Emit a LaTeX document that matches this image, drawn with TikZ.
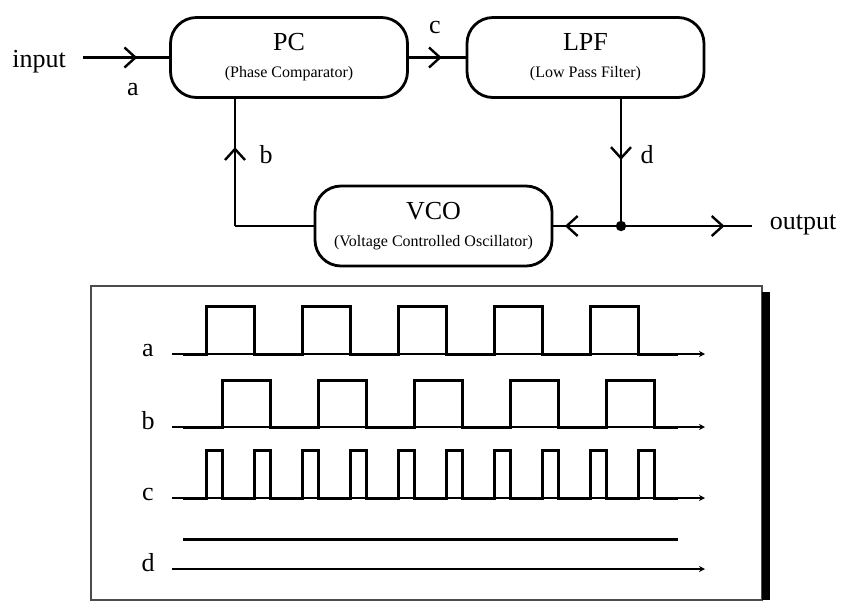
\documentclass[tikz,border=0pt]{standalone}
\usepackage{fontspec}
\setmainfont{Liberation Serif}
\usetikzlibrary{arrows.meta,decorations.markings}

\tikzset{
	midarrow/.style={postaction={decorate},decoration={markings,mark=at position #1 with {\arrow{Straight Barb[length=5.5pt,width=10pt,line width=1.2pt]}}}},
	block/.style={draw,line width=1.4pt,rounded corners=13pt,minimum width=118.5pt,minimum height=40pt,align=center,font=\fontsize{13}{15}\selectfont},
	link/.style={line width=1.2pt},
	wave/.style={line width=1.5pt},
	axis/.style={line width=0.6pt,-{Stealth[length=3pt,width=3pt]}}
}
\newcommand{\blocksub}[1]{\\[-1.5pt]{\fontsize{8}{10}\selectfont #1}}

\begin{document}
\begin{tikzpicture}[x=0.5pt,y=-0.5pt,font=\fontsize{13}{15}\selectfont]
	\useasboundingbox (0,0) rectangle (844,601);
	\begin{scope}[every node/.style={block}]
	\node (PC) at (289,57.5) {PC\blocksub{(Phase Comparator)}};
	\node (LPF) at (585.5,57.5) {LPF\blocksub{(Low Pass Filter)}};
	\node (VCO) at (433.5,226) {VCO\blocksub{(Voltage Controlled Oscillator)}};
	\end{scope}
	\coordinate (in) at (83,57.5);
	\coordinate (fb) at (235,226);
	\coordinate (jn) at (621,226);
	\coordinate (out) at (752,226);
	\draw [link,midarrow=0.63] (in) -- (PC.west);
	\draw [link,midarrow=0.58] (PC.east) -- (LPF.west);
	\draw [link,midarrow=0.48] (LPF.south -| jn) -- (jn);
	\draw [link,midarrow=0.83] (jn) -- (VCO.east);
	\draw [link,midarrow=0.79] (jn) -- (out);
	\draw [link] (VCO.west) -- (fb);
	\draw [link,midarrow=0.62] (fb) -- (fb |- PC.south);
	\fill (jn) circle (2.6pt);
	\node (input) at (39,67) [anchor=base] {input};
	\node (output) at (803,229) [anchor=base] {output};
	\node (la) at (133,95) [anchor=base] {a};
	\node (lb) at (266,163) [anchor=base] {b};
	\node (lc) at (435,33) [anchor=base] {c};
	\node (ld) at (647,163) [anchor=base] {d};

	% timing chart
	\draw [gray!60!black,line width=0.6pt] (91,286) rectangle (762,600);
	\fill (762,292) rectangle (770,600);
	\foreach \n/\y in {a/354,b/427,c/498,d/569} {
		\node (w\n) at (148,\y+2) [anchor=base] {\n};
		\draw [axis] (172,\y) -- (705,\y);
	}
	\draw [wave] (183,354) \foreach \k in {0,...,4} { -- ({206+96*\k},354) -- ++(0,-48) -- ++(48,0) -- ++(0,48) } -- (678,354);
	\draw [wave] (183,427) \foreach \k in {0,...,4} { -- ({222+96*\k},427) -- ++(0,-47) -- ++(48,0) -- ++(0,47) } -- (678,427);
	\draw [wave] (183,498) \foreach \k in {0,...,9} { -- ({206+48*\k},498) -- ++(0,-48) -- ++(16,0) -- ++(0,48) } -- (678,498);
	\draw [wave] (183,539) -- (678,539);
\end{tikzpicture}
\end{document}
